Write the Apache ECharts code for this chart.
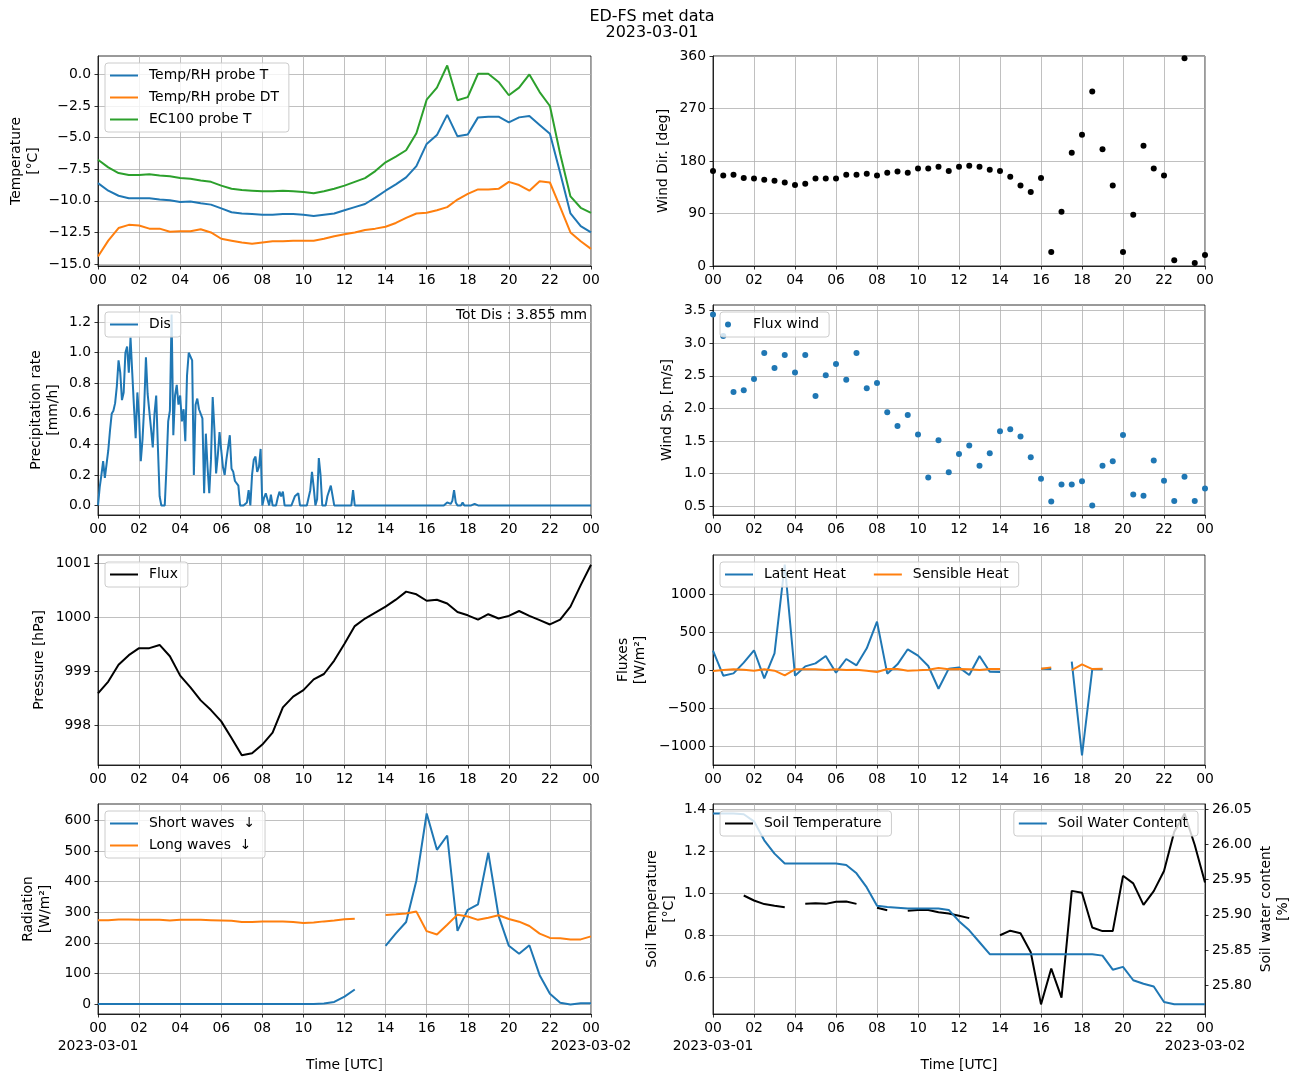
<!DOCTYPE html>
<html>
<head>
<meta charset="utf-8">
<script src="https://cdn.jsdelivr.net/npm/echarts@6/dist/echarts.min.js"></script>
<style>
  html, body { margin: 0; padding: 0; background: #fff; }
  #chart { width: 1299px; height: 1083px; }
</style>
</head>
<body>
<div id="chart"></div>
<script>
// half-hourly time stamps (hours since 2023-03-01 00 UTC)
const halfHours = [0,0.5,1,1.5,2,2.5,3,3.5,4,4.5,5,5.5,6,6.5,7,7.5,8,8.5,9,9.5,10,10.5,11,11.5,12,
  12.5,13,13.5,14,14.5,15,15.5,16,16.5,17,17.5,18,18.5,19,19.5,20,20.5,21,21.5,22,22.5,23,23.5,24];

const probeT = [-8.6,-9.2,-9.6,-9.8,-9.8,-9.8,-9.9,-9.95,-10.1,-10.05,-10.2,-10.3,-10.6,-10.9,-11.0,-11.05,
  -11.1,-11.1,-11.05,-11.05,-11.1,-11.2,-11.1,-11.0,-10.75,-10.5,-10.25,-9.75,-9.2,-8.7,-8.15,-7.25,-5.5,
  -4.8,-3.2,-4.9,-4.75,-3.4,-3.35,-3.35,-3.8,-3.4,-3.3,-4.0,-4.7,-7.8,-11.0,-12.0,-12.5];
const probeDT = [-14.4,-13.15,-12.15,-11.9,-11.95,-12.2,-12.2,-12.45,-12.4,-12.4,-12.25,-12.5,-13.0,-13.15,
  -13.3,-13.4,-13.3,-13.2,-13.2,-13.15,-13.15,-13.15,-13.0,-12.8,-12.65,-12.5,-12.3,-12.2,-12.05,-11.75,
  -11.35,-11.0,-10.95,-10.75,-10.5,-9.9,-9.45,-9.1,-9.1,-9.05,-8.5,-8.75,-9.2,-8.45,-8.55,-10.5,-12.5,-13.2,-13.8];
const ec100T = [-6.75,-7.35,-7.8,-7.95,-7.95,-7.9,-8.0,-8.05,-8.2,-8.25,-8.4,-8.5,-8.8,-9.05,-9.15,-9.2,
  -9.25,-9.25,-9.2,-9.25,-9.3,-9.4,-9.25,-9.05,-8.8,-8.5,-8.2,-7.65,-6.95,-6.5,-6.0,-4.65,-2.0,-1.05,0.7,
  -2.05,-1.8,0.05,0.05,-0.6,-1.65,-1.05,0.0,-1.4,-2.5,-6.3,-9.65,-10.55,-10.95];

const windDir = [163,155,156.5,151,150,148,146,143,139,141,150,150,150,156.5,156.5,158,155,160,162,160,
  167,167,170,163,170,172,170,165,163,153,138,127,151,24,93,194,225,299,200,138,24,88,206,167,155,10,356,5,19];
const windSpeed = [3.44,3.11,2.25,2.28,2.45,2.85,2.62,2.82,2.55,2.82,2.19,2.51,2.68,2.44,2.85,2.31,2.39,
  1.94,1.73,1.90,1.60,0.94,1.51,1.02,1.30,1.43,1.12,1.31,1.65,1.68,1.57,1.25,0.92,0.57,0.83,0.83,0.88,
  0.51,1.12,1.19,1.59,0.68,0.66,1.20,0.89,0.58,0.95,0.58,0.77];

// precipitation rate, 5-minute steps from 00:00
const precipStepMin = 5;
const precipRate = [
  0,0.12,0.2,0.29,0.18,0.27,0.36,0.49,0.6,0.62,
  0.67,0.78,0.95,0.87,0.69,0.74,1.0,1.04,0.87,1.1,
  0.87,0.65,0.44,0.74,0.58,0.29,0.43,0.65,0.97,0.73,
  0.72,0.5,0.38,0.6,0.72,0.38,0.06,0,0,0,
  0.25,0.55,0.62,1.25,0.46,0.72,0.79,0.66,0.72,0.55,
  0.63,0.42,0.85,1.0,0.99,0.95,0.2,0.66,0.7,0.63,
  0.63,0.57,0.08,0.47,0.25,0.08,0.3,0.71,0.5,0.21,
  0.33,0.48,0.36,0.25,0.2,0.3,0.38,0.46,0.24,0.22,
  0.16,0.15,0.13,0,0,0,0,0.02,0.1,0,
  0.2,0.3,0.32,0.22,0.25,0.37,0,0.05,0.08,0.07,
  0,0.07,0,0,0,0.05,0.09,0.06,0.09,0,
  0,0,0,0,0,0.06,0.06,0.08,0,0,
  0,0,0,0,0.1,0.22,0.12,0,0.04,0.31,
  0.2,0,0,0,0.06,0.07,0.13,0.12,0,0,
  0,0,0,0,0,0,0,0,0,0.1,
  0,0,0,0,0,0,0,0,0,0,
  0,0,0,0,0,0,0,0,0,0,
  0,0,0,0,0,0,0,0,0,0,
  0,0,0,0,0,0,0,0,0,0,
  0,0,0,0,0,0,0,0,0,0,
  0,0,0,0,0.02,0.02,0.01,0.03,0.1,0.02,
  0,0,0,0.02,0,0,0,0,0,0,
  0.01,0,0,0,0,0,0,0,0,0,
  0,0,0,0,0,0,0,0,0,0,
  0,0,0,0,0,0,0,0,0,0,
  0,0,0,0,0,0,0,0,0,0,
  0,0,0,0,0,0,0,0,0,0,
  0,0,0,0,0,0,0,0,0,0,
  0,0,0,0,0,0,0,0,0];
const totalDis = '3.855';

const pressure = [998.59,998.81,999.12,999.30,999.43,999.43,999.49,999.28,998.92,998.70,998.46,998.28,
  998.07,997.76,997.44,997.48,997.64,997.86,998.33,998.53,998.65,998.85,998.95,999.20,999.51,999.84,
  999.98,1000.09,1000.20,1000.33,1000.48,1000.43,1000.31,1000.33,1000.26,1000.10,1000.04,999.96,1000.06,
  999.98,1000.03,1000.12,1000.03,999.95,999.87,999.96,1000.20,1000.60,1000.98];

const latentHeat = [255,-75,-44,97,260,-110,220,1389,-75,48,88,185,-35,145,62,286,637,-48,75,273,189,53,
  -246,18,35,-66,185,-22,-26,null,null,null,18,15,null,110,-1125,9,9,null,null,null,null,null,null,null,null,null,null];
const sensibleHeat = [-13,0,9,4,-9,9,-9,-70,9,9,9,0,9,0,4,-9,-26,13,13,-9,-4,4,26,9,13,9,0,13,13,
  null,null,null,18,35,null,0,75,13,18,null,null,null,null,null,null,null,null,null,null];

const shortWave = [0,0,0,0,0,0,0,0,0,0,0,0,0,0,0,0,0,0,0,0,0,0,1,6.5,24,47,null,null,
  190,231,268,404,623,504,551,239,308,326,495,288,190,164,192,94,33,4,-2,2,2];
const longWave = [274,274,276,276,275,275,275,273,275,275,275,274,273,272,268,268,270,270,270,268,265,266,
  270,273,277,279,null,null,291,293,296,302,238,227,259,292,286,275,282,290,278,269,255,230,216,215,211,211,221];

const soilTemp = [null,null,null,0.990,0.966,0.949,0.941,0.934,null,0.950,0.953,0.950,0.960,0.961,0.950,null,
  0.931,0.920,null,0.917,0.921,0.921,0.910,0.904,0.893,0.882,null,null,0.800,0.822,0.810,0.719,0.470,0.641,
  0.502,1.012,1.003,0.837,0.820,0.820,1.084,1.048,0.945,1.011,1.107,1.295,1.381,1.231,1.052];
const soilWater = [26.044,26.044,26.044,26.043,26.033,26.006,25.987,25.973,25.973,25.973,25.973,25.973,25.973,
  25.971,25.959,25.939,25.913,25.911,25.910,25.909,25.909,25.909,25.909,25.907,25.891,25.878,25.861,25.844,
  25.844,25.844,25.844,25.844,25.844,25.844,25.844,25.844,25.844,25.844,25.842,25.822,25.826,25.807,25.802,
  25.798,25.776,25.773,25.773,25.773,25.773];

// tick values
const tempTicks = [-15,-12.5,-10,-7.5,-5,-2.5,0];
const dirTicks = [0,90,180,270,360];
const precipTicks = [0,0.2,0.4,0.6,0.8,1.0,1.2];
const speedTicks = [0.5,1.0,1.5,2.0,2.5,3.0,3.5];
const pressTicks = [998,999,1000,1001];
const fluxTicks = [-1000,-500,0,500,1000];
const radTicks = [0,100,200,300,400,500,600];
const soilTTicks = [0.6,0.8,1.0,1.2,1.4];
const soilWTicks = [25.80,25.85,25.90,25.95,26.00,26.05];
const dateTicks = [0, 24];
const dateLabels = ['2023-03-01', '2023-03-02'];

const FONT = 'DejaVu Sans';
const TXT = 13.9;
const BLUE = '#1f77b4', ORANGE = '#ff7f0e', GREEN = '#2ca02c';
const LINE_ICON = 'path://M0,0 L28,0 L28,2 L0,2 Z';
const DOT_ICON = 'path://M3,0 A3,3 0 1,1 3,6 A3,3 0 1,1 3,0 Z';

const grids = [
  { left: 98,  top: 56,  width: 493, height: 210 },
  { left: 713, top: 56,  width: 492, height: 210 },
  { left: 98,  top: 305, width: 493, height: 210 },
  { left: 713, top: 305, width: 492, height: 210 },
  { left: 98,  top: 555, width: 493, height: 210 },
  { left: 713, top: 555, width: 492, height: 210 },
  { left: 98,  top: 804, width: 493, height: 210 },
  { left: 713, top: 804, width: 492, height: 210 },
].map(g => Object.assign(g, { show: true, borderColor: '#000', borderWidth: 0.8, backgroundColor: 'transparent', containLabel: false, outerBoundsMode: 'none' }));

function minus(s) { return s.replace('-', '\u2212'); }

function hourLabel(v) {
  const h = Math.round(v) % 24;
  return (h < 10 ? '0' : '') + h;
}

function xAxisCfg(gi, bottom) {
  return {
    type: 'value', gridIndex: gi, min: 0, max: 24, interval: 2,
    axisLine: { show: true, onZero: false, lineStyle: { color: '#000', width: 0.8 } },
    axisTick: { show: true, length: 3.5, lineStyle: { color: '#000', width: 0.8 } },
    axisLabel: { color: '#000', fontSize: TXT, fontFamily: FONT, margin: 7,
      showMinLabel: true, showMaxLabel: true, formatter: hourLabel },
    splitLine: { show: true, lineStyle: { color: '#b0b0b0', width: 0.8 } },
    name: bottom ? 'Time [UTC]' : '', nameLocation: 'middle', nameGap: 44,
    nameTextStyle: { color: '#000', fontSize: TXT, fontFamily: FONT }
  };
}

// second label row holding the dates under the first and last tick
function dateAxisCfg(gi) {
  return {
    type: 'value', gridIndex: gi, min: 0, max: 24, position: 'bottom', offset: 18,
    axisLine: { show: false }, axisTick: { show: false, customValues: dateTicks }, splitLine: { show: false },
    axisLabel: { customValues: dateTicks, color: '#000', fontSize: TXT, fontFamily: FONT, margin: 7,
      showMinLabel: true, showMaxLabel: true,
      formatter: v => dateLabels[dateTicks.indexOf(v)] || '' }
  };
}

function yAxisCfg(gi, min, max, ticks, digits, name, gap, extra) {
  return Object.assign({
    type: 'value', gridIndex: gi, min: min, max: max, scale: true,
    axisLine: { show: true, onZero: false, lineStyle: { color: '#000', width: 0.8 } },
    axisTick: { show: true, length: 3.5, customValues: ticks, lineStyle: { color: '#000', width: 0.8 } },
    axisLabel: { customValues: ticks, color: '#000', fontSize: TXT, fontFamily: FONT, margin: 7,
      formatter: v => minus(v.toFixed(digits)) },
    splitLine: { show: true, lineStyle: { color: '#b0b0b0', width: 0.8 } },
    name: name, nameLocation: 'middle', nameGap: gap, nameRotate: 90,
    nameTextStyle: { color: '#000', fontSize: TXT, fontFamily: FONT, lineHeight: 17 }
  }, extra || {});
}

function pairs(xs, ys) { return ys.map((y, i) => [xs[i], y]); }

function lineSeries(name, xi, yi, data, color) {
  return {
    name: name, type: 'line', xAxisIndex: xi, yAxisIndex: yi, data: data,
    symbol: 'none', showSymbol: false, connectNulls: false, clip: true,
    lineStyle: { color: color, width: 2 }, itemStyle: { color: color },
    emphasis: { disabled: true }, animation: false
  };
}

function dotSeries(name, xi, yi, data, color) {
  return {
    name: name, type: 'scatter', xAxisIndex: xi, yAxisIndex: yi, data: data,
    symbol: 'circle', symbolSize: 6, itemStyle: { color: color, opacity: 1 },
    emphasis: { disabled: true }, animation: false
  };
}

function legendCfg(names, pos, extra) {
  return Object.assign({
    data: names, orient: 'vertical', selectedMode: false,
    icon: LINE_ICON, itemWidth: 28, itemHeight: 14, itemGap: 7,
    padding: [5, 10, 5, 5],
    backgroundColor: 'rgba(255,255,255,0.8)', borderColor: '#cccccc', borderWidth: 1, borderRadius: 3,
    textStyle: { color: '#000', fontSize: TXT, fontFamily: FONT, lineHeight: 15, padding: [0, 0, 0, 6] }
  }, pos, extra || {});
}

const precipTimes = precipRate.map((v, i) => i * precipStepMin / 60);

const option = {
  backgroundColor: '#fff',
  animation: false,
  grid: grids,
  xAxis: [0, 1, 2, 3, 4, 5, 6, 7].map(i => xAxisCfg(i, i >= 6)).concat([dateAxisCfg(6), dateAxisCfg(7)]),
  yAxis: [
    yAxisCfg(0, -15.155, 1.455, tempTicks, 1, 'Temperature\n[°C]', 56),
    yAxisCfg(1, 0, 360, dirTicks, 0, 'Wind Dir. [deg]', 41),
    yAxisCfg(2, -0.0625, 1.3125, precipTicks, 1, 'Precipitation rate\n[mm/h]', 36),
    yAxisCfg(3, 0.3635, 3.5865, speedTicks, 1, 'Wind Sp. [m/s]', 37),
    yAxisCfg(4, 997.26, 1001.16, pressTicks, 0, 'Pressure [hPa]', 50),
    yAxisCfg(5, -1250, 1514, fluxTicks, 0, 'Fluxes\n[W/m²]', 64),
    yAxisCfg(6, -33, 654, radTicks, 0, 'Radiation\n[W/m²]', 44),
    yAxisCfg(7, 0.424, 1.427, soilTTicks, 1, 'Soil Temperature\n[°C]', 35),
    yAxisCfg(7, 25.759, 26.0576, soilWTicks, 2, 'Soil water content\n[%]', 53,
      { position: 'right', splitLine: { show: false } })
  ],
  legend: [
    legendCfg(['Temp/RH probe T', 'Temp/RH probe DT', 'EC100 probe T'], { left: 105, top: 63 }),
    legendCfg(['Dis'], { left: 105, top: 312 }),
    legendCfg(['Flux wind'], { left: 720, top: 312 }, { icon: DOT_ICON, itemHeight: 6 }),
    legendCfg(['Flux'], { left: 105, top: 562 }),
    legendCfg(['Latent Heat', 'Sensible Heat'], { left: 720, top: 562 }, { orient: 'horizontal', itemGap: 28 }),
    legendCfg(['Short waves  ↓', 'Long waves  ↓'], { left: 105, top: 811 }),
    legendCfg(['Soil Temperature'], { left: 720, top: 811 }),
    legendCfg(['Soil Water Content'], { right: 101, top: 811 })
  ],
  series: [
    lineSeries('Temp/RH probe T', 0, 0, pairs(halfHours, probeT), BLUE),
    lineSeries('Temp/RH probe DT', 0, 0, pairs(halfHours, probeDT), ORANGE),
    lineSeries('EC100 probe T', 0, 0, pairs(halfHours, ec100T), GREEN),
    dotSeries('Wind Dir.', 1, 1, pairs(halfHours, windDir), '#000'),
    lineSeries('Dis', 2, 2, pairs(precipTimes, precipRate), BLUE),
    dotSeries('Flux wind', 3, 3, pairs(halfHours, windSpeed), BLUE),
    lineSeries('Flux', 4, 4, pairs(halfHours, pressure), '#000'),
    lineSeries('Latent Heat', 5, 5, pairs(halfHours, latentHeat), BLUE),
    lineSeries('Sensible Heat', 5, 5, pairs(halfHours, sensibleHeat), ORANGE),
    lineSeries('Short waves  ↓', 6, 6, pairs(halfHours, shortWave), BLUE),
    lineSeries('Long waves  ↓', 6, 6, pairs(halfHours, longWave), ORANGE),
    lineSeries('Soil Temperature', 7, 7, pairs(halfHours, soilTemp), '#000'),
    lineSeries('Soil Water Content', 7, 8, pairs(halfHours, soilWater), BLUE)
  ],
  graphic: [
    { type: 'text', x: 652, y: 16.5, silent: true,
      style: { text: 'ED-FS met data', fill: '#000', fontSize: 16, fontFamily: FONT, align: 'center', verticalAlign: 'middle' } },
    { type: 'text', x: 652, y: 33, silent: true,
      style: { text: dateLabels[0], fill: '#000', fontSize: 16, fontFamily: FONT, align: 'center', verticalAlign: 'middle' } },
    { type: 'text', x: 587, y: 315, silent: true, z: 10,
      style: { text: 'Tot Dis : ' + totalDis + ' mm', fill: '#000', fontSize: TXT, fontFamily: FONT, align: 'right', verticalAlign: 'middle' } }
  ]
};

const chart = echarts.init(document.getElementById('chart'), null, { renderer: 'canvas' });
chart.setOption(option);
</script>
</body>
</html>
